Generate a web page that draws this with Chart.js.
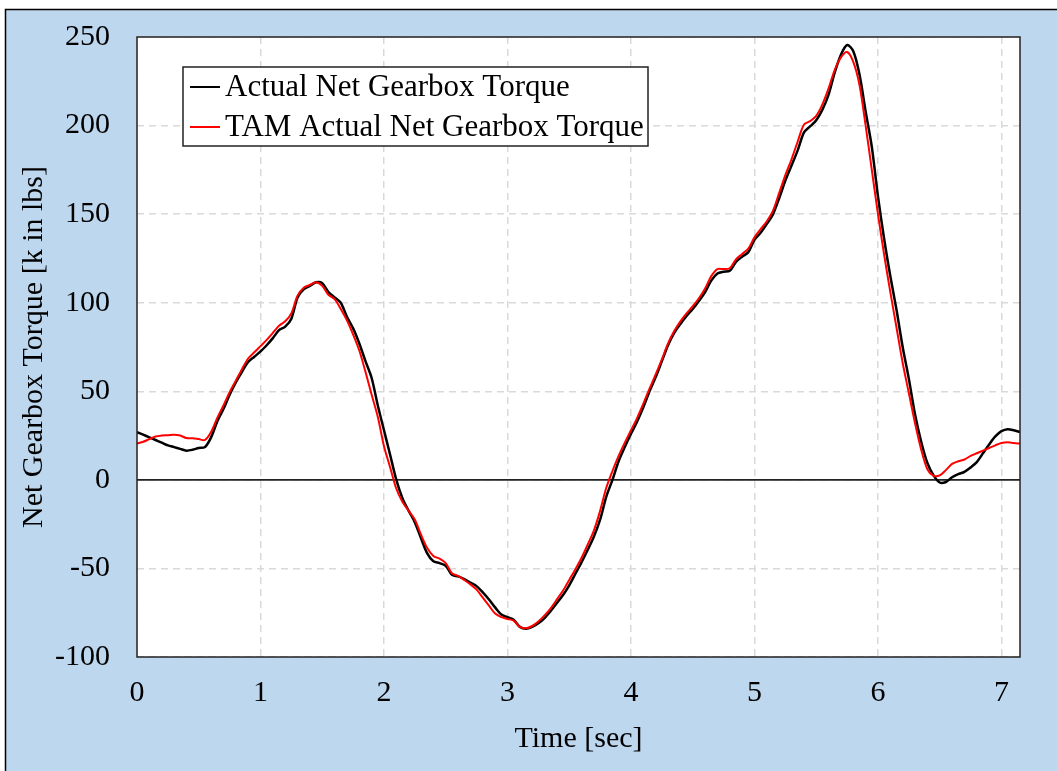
<!DOCTYPE html>
<html>
<head>
<meta charset="utf-8">
<title>Net Gearbox Torque</title>
<script src="https://cdn.jsdelivr.net/npm/chart.js"></script>
<style>
  html, body { margin: 0; padding: 0; background: #fff; }
  canvas { display: block; }
</style>
</head>
<body>
<canvas id="torqueChart" width="1057" height="771"></canvas>
<script>
// time base, seconds
const timeSec = [
  0, 0.05, 0.1, 0.15, 0.2, 0.25, 0.3, 0.35, 0.4, 0.45, 0.5, 0.55, 0.6, 0.65, 0.7, 0.75, 0.8, 0.85, 0.9, 0.95,
  1, 1.05, 1.1, 1.15, 1.2, 1.25, 1.3, 1.35, 1.4, 1.45, 1.5, 1.55, 1.6, 1.65, 1.7, 1.75, 1.8, 1.85, 1.9, 1.95,
  2, 2.05, 2.1, 2.15, 2.2, 2.25, 2.3, 2.35, 2.4, 2.45, 2.5, 2.55, 2.6, 2.65, 2.7, 2.75, 2.8, 2.85, 2.9, 2.95,
  3, 3.05, 3.1, 3.15, 3.2, 3.25, 3.3, 3.35, 3.4, 3.45, 3.5, 3.55, 3.6, 3.65, 3.7, 3.75, 3.8, 3.85, 3.9, 3.95,
  4, 4.05, 4.1, 4.15, 4.2, 4.25, 4.3, 4.35, 4.4, 4.45, 4.5, 4.55, 4.6, 4.65, 4.7, 4.75, 4.8, 4.85, 4.9, 4.95,
  5, 5.05, 5.1, 5.15, 5.2, 5.25, 5.3, 5.35, 5.4, 5.45, 5.5, 5.55, 5.6, 5.65, 5.7, 5.75, 5.8, 5.85, 5.9, 5.95,
  6, 6.05, 6.1, 6.15, 6.2, 6.25, 6.3, 6.35, 6.4, 6.45, 6.5, 6.55, 6.6, 6.65, 6.7, 6.75, 6.8, 6.85, 6.9, 6.95,
  7, 7.05, 7.1, 7.15
];

// measured net gearbox torque, k in lbs
const actualTorque = [
  27, 25.5, 24, 22.5, 21, 19.5, 18.5, 17.5, 16.5, 17, 18, 18.5, 24, 33, 40, 48, 55, 61, 66.5, 69.5,
  72.5, 76, 80, 84.5, 86.5, 91, 103, 107.5, 109.5, 111.5, 111, 106, 103, 100, 92, 85.5, 77, 67, 57.5, 42,
  28, 14, 0, -10.5, -17.5, -24, -33, -41.5, -46, -47, -48.5, -53.6, -54.5, -56, -58, -60, -63.5, -67.5, -72, -76,
  -77.5, -79, -83, -84, -83, -81, -78, -74, -69.5, -65, -59.5, -53, -46.5, -39.5, -32, -22.5, -9.5, 0, 10.5, 18.5,
  26, 33, 41, 50, 58, 67, 76, 83, 88, 92.5, 96.5, 101, 106, 112.5, 116.5, 117.5, 118, 123, 126, 128.5,
  135.5, 139.5, 144.5, 150, 159, 169, 177.5, 186, 196, 199.5, 203, 209, 217.5, 230, 240, 245.5, 242, 229, 208, 188,
  160, 136, 115, 96, 75, 57, 37, 21.5, 9.5, 2.5, -1.5, -1.2, 1.5, 3.2, 4.5, 7, 10, 15, 20, 24.5,
  27.5, 28.6, 28, 27
];

// TAM reconstruction of the same torque
const tamTorque = [
  20.5, 21.5, 23, 24.5, 25, 25.2, 25.5, 25, 23.6, 23.5, 23, 22.5, 27, 35, 42, 49.5, 56, 62.5, 68.5, 72,
  75.5, 79, 83, 87, 89.5, 94, 104, 108.5, 110, 111.5, 109.5, 104.5, 102, 96.5, 90, 82, 73, 61, 48, 35.5,
  19, 7, -5, -12.5, -17.5, -22.5, -31, -38.5, -43, -44.5, -47, -52.7, -54.2, -56.5, -59, -62, -66.5, -71, -75.5, -77.5,
  -78.5, -79.5, -83, -83.8, -82.5, -80, -76.5, -72.5, -67.5, -62.5, -56.5, -50.5, -44, -36.5, -28.5, -17.5, -4.5, 5, 13.5, 21,
  28, 35, 43, 51.5, 59.5, 68, 77, 84, 89.5, 94, 98, 102.5, 108, 115, 119, 119, 119.5, 124.5, 127.5, 130.5,
  137, 141.5, 146, 152, 162, 172, 181, 191, 200.5, 202.5, 205.5, 212, 221, 231.5, 238.5, 241.5, 236, 223, 200, 175,
  150, 127, 106, 86, 66, 49, 32, 17, 6, 2.3, 2.5, 5.5, 9, 10.5, 11.5, 13.5, 15, 16.5, 18, 19.5,
  20.8, 21.2, 20.8, 20.5
];

const yTicks = [-100, -50, 0, 50, 100, 150, 200, 250];
const xTicks = [0, 1, 2, 3, 4, 5, 6, 7];

const SERIF = "'Liberation Serif', 'Times New Roman', serif";
const PANEL_BLUE = '#bdd7ee';

const toPoints = (ys) => timeSec.map((t, i) => ({ x: t, y: ys[i] }));

// blue panel, white plot area, zero line, plot frame and boxed legend
const panel = {
  id: 'panel',
  beforeDraw(chart) {
    const { ctx, width, height, chartArea: a } = chart;
    ctx.save();
    ctx.fillStyle = '#ffffff';
    ctx.fillRect(0, 0, width, height);
    ctx.fillStyle = PANEL_BLUE;
    ctx.fillRect(5, 9, width - 5, height - 9);
    ctx.strokeStyle = '#000';
    ctx.lineWidth = 1.5;
    ctx.beginPath();
    ctx.moveTo(5.5, height);
    ctx.lineTo(5.5, 9.5);
    ctx.lineTo(width, 9.5);
    ctx.stroke();
    ctx.fillStyle = '#ffffff';
    ctx.fillRect(a.left, a.top, a.right - a.left, a.bottom - a.top);
    ctx.restore();
  },
  beforeDatasetsDraw(chart) {
    const { ctx, chartArea: a, scales } = chart;
    const y0 = scales.y.getPixelForValue(0);
    ctx.save();
    ctx.strokeStyle = '#222';
    ctx.lineWidth = 1.8;
    ctx.beginPath();
    ctx.moveTo(a.left, y0);
    ctx.lineTo(a.right, y0);
    ctx.stroke();
    ctx.restore();
  },
  afterDatasetsDraw(chart) {
    const { ctx, chartArea: a } = chart;
    ctx.save();
    ctx.strokeStyle = '#222';
    ctx.lineWidth = 1.5;
    ctx.strokeRect(a.left, a.top, a.right - a.left, a.bottom - a.top);
    ctx.restore();
  },
  afterDraw(chart) {
    const { ctx, chartArea: a } = chart;
    const bx = a.left + 46, by = a.top + 30, bw = 465, bh = 79;
    ctx.save();
    ctx.fillStyle = '#fff';
    ctx.fillRect(bx, by, bw, bh);
    ctx.strokeStyle = '#222';
    ctx.lineWidth = 1.5;
    ctx.strokeRect(bx, by, bw, bh);
    ctx.font = '31px ' + SERIF;
    ctx.textBaseline = 'middle';
    ctx.fillStyle = '#000';
    chart.data.datasets.forEach((ds, i) => {
      const cy = by + 20 + i * 40;
      ctx.strokeStyle = ds.borderColor;
      ctx.lineWidth = 2;
      ctx.beginPath();
      ctx.moveTo(bx + 7, cy);
      ctx.lineTo(bx + 37, cy);
      ctx.stroke();
      ctx.fillText(ds.label, bx + 42, cy + 1);
    });
    ctx.restore();
  }
};

new Chart(document.getElementById('torqueChart'), {
  type: 'line',
  data: {
    datasets: [
      {
        label: 'Actual Net Gearbox Torque',
        data: toPoints(actualTorque),
        borderColor: '#000000',
        borderWidth: 2.5,
        pointRadius: 0,
        tension: 0.3,
        order: 2
      },
      {
        label: 'TAM Actual Net Gearbox Torque',
        data: toPoints(tamTorque),
        borderColor: '#ff0000',
        borderWidth: 2,
        pointRadius: 0,
        tension: 0.3,
        order: 1
      }
    ]
  },
  options: {
    responsive: false,
    animation: false,
    layout: { padding: { left: 0, top: 37, right: 37, bottom: 0 } },
    plugins: {
      legend: { display: false },
      tooltip: { enabled: false }
    },
    scales: {
      x: {
        type: 'linear',
        min: 0,
        max: 7.15,
        afterBuildTicks(scale) { scale.ticks = xTicks.map(v => ({ value: v })); },
        ticks: {
          color: '#000',
          padding: 18,
          maxRotation: 0,
          font: { family: SERIF, size: 30 }
        },
        grid: { color: '#d9d9d9', lineWidth: 1.5, drawTicks: false },
        border: { display: false, dash: [7, 5] },
        title: {
          display: true,
          text: 'Time [sec]',
          color: '#000',
          font: { family: SERIF, size: 30 },
          padding: { top: 0, bottom: 14 }
        },
        afterFit(scale) {
          scale.height = 114;
          scale.paddingLeft = 0;
          scale.paddingRight = 0;
        }
      },
      y: {
        min: -100,
        max: 250,
        afterBuildTicks(scale) { scale.ticks = yTicks.map(v => ({ value: v })); },
        ticks: {
          color: '#000',
          padding: 27,
          font: { family: SERIF, size: 30 }
        },
        grid: { color: '#d9d9d9', lineWidth: 1.5, drawTicks: false },
        border: { display: false, dash: [7, 5] },
        title: {
          display: true,
          text: 'Net Gearbox Torque [k in lbs]',
          color: '#000',
          font: { family: SERIF, size: 30 },
          padding: { top: 16, bottom: 0 }
        },
        afterFit(scale) {
          scale.width = 137;
          scale.paddingTop = 0;
          scale.paddingBottom = 0;
        }
      }
    }
  },
  plugins: [panel]
});
</script>
</body>
</html>
